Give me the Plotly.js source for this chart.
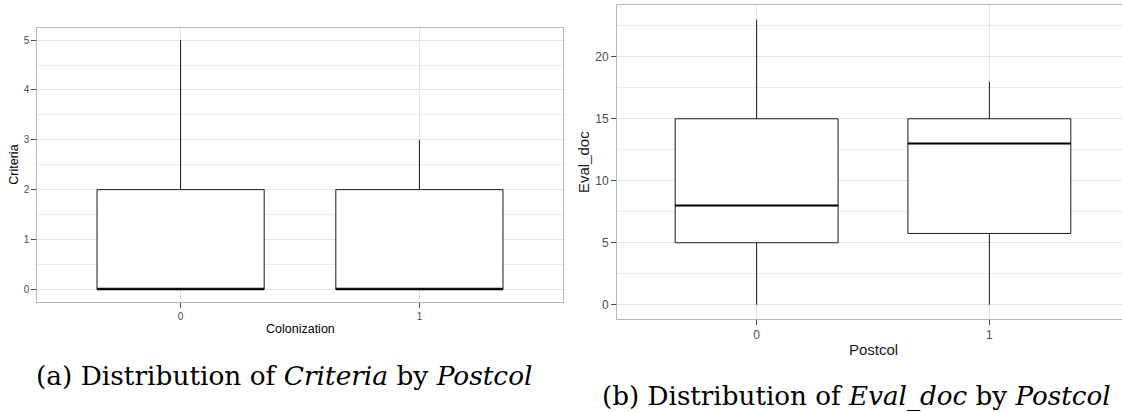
<!DOCTYPE html>
<html>
<head>
<meta charset="utf-8">
<script src="https://cdn.plot.ly/plotly-3.0.1.min.js"></script>
<style>
  html, body { margin: 0; padding: 0; overflow: hidden; background: #ffffff; }
  #chart { width: 1130px; height: 412px; }
</style>
</head>
<body>
<div id="chart"></div>
<script>
// ---- data ----
const categories = [0, 1];
const tickLabels = ['0', '1'];

// (a) Criteria by Colonization
const critLower = [0, 0];
const critQ1 = [0, 0];
const critMedian = [0, 0];
const critQ3 = [2, 2];
const critUpper = [5, 3];

// (b) Eval_doc by Postcol
const evalLower = [0, 0];
const evalQ1 = [5, 5.75];
const evalMedian = [8, 13];
const evalQ3 = [15, 15];
const evalUpper = [23, 18];

const captionA = '(a) Distribution of <i>Criteria</i> by <i>Postcol</i>';
const captionB = '(b) Distribution of <i>Eval_doc</i> by <i>Postcol</i>';

// ---- layout helpers ----
const W = 1130, H = 412;
const xp = px => px / W;
const yp = py => 1 - py / H;
const BOXW = 0.7;

function boxTrace(lo, q1, med, q3, hi, xa, ya) {
  return {
    type: 'box', x: categories, q1: q1, median: med, q3: q3,
    lowerfence: lo, upperfence: hi, width: BOXW, whiskerwidth: 0,
    boxpoints: false, fillcolor: '#ffffff',
    line: { color: '#1a1a1a', width: 1 },
    xaxis: xa, yaxis: ya, showlegend: false, hoverinfo: 'skip'
  };
}
function medianTrace(med, xa, ya) {
  const xs = [], ys = [];
  categories.forEach((c, i) => {
    xs.push(c - BOXW / 2, c + BOXW / 2, null);
    ys.push(med[i], med[i], null);
  });
  return { type: 'scatter', mode: 'lines', x: xs, y: ys,
    line: { color: '#000000', width: 2 }, xaxis: xa, yaxis: ya,
    showlegend: false, hoverinfo: 'skip' };
}

const sans = 'Liberation Sans, Arial, sans-serif';
const serif = 'DejaVu Serif, serif';
const grid = '#e3e3e3', border = '#b8b8b8', tickCol = '#4d4d4d';
function xAxis(domain, fs, anchor) {
  return {
    domain: domain, range: [-0.6, 1.6], tickvals: categories, ticktext: tickLabels,
    showgrid: true, gridcolor: grid, gridwidth: 1, zeroline: false,
    showline: true, linecolor: border, linewidth: 1, mirror: true,
    ticks: 'outside', ticklen: 5, tickcolor: tickCol, tickwidth: 1,
    tickfont: { family: sans, size: fs, color: tickCol },
    anchor: anchor, fixedrange: true
  };
}
function yAxis(domain, range, dtick, fs, anchor) {
  return {
    domain: domain, range: range, tick0: 0, dtick: dtick,
    showgrid: true, gridcolor: grid, gridwidth: 1, zeroline: false,
    minor: { dtick: dtick / 2, tick0: 0, showgrid: true, gridcolor: '#ececec', gridwidth: 1, ticks: '' },
    showline: true, linecolor: border, linewidth: 1, mirror: true,
    ticks: 'outside', ticklen: 5, tickcolor: tickCol, tickwidth: 1,
    tickfont: { family: sans, size: fs, color: tickCol },
    anchor: anchor, fixedrange: true
  };
}

const data = [
  boxTrace(critLower, critQ1, critMedian, critQ3, critUpper, 'x', 'y'),
  medianTrace(critMedian, 'x', 'y'),
  boxTrace(evalLower, evalQ1, evalMedian, evalQ3, evalUpper, 'x2', 'y2'),
  medianTrace(evalMedian, 'x2', 'y2')
];

const layout = {
  width: W, height: H,
  margin: { l: 0, r: 0, t: 0, b: 0 },
  paper_bgcolor: '#ffffff', plot_bgcolor: '#ffffff',
  showlegend: false,
  font: { family: sans },
  xaxis: xAxis([xp(37.3), xp(562.7)], 10, 'y'),
  yaxis: yAxis([yp(301.7), yp(27.7)], [-0.25, 5.25], 1, 10, 'x'),
  xaxis2: xAxis([xp(617), xp(1129)], 12, 'y2'),
  yaxis2: yAxis([yp(319), yp(5.3)], [-1.15, 24.15], 5, 12, 'x2'),
  annotations: [
    { text: 'Colonization', xref: 'paper', yref: 'paper', x: xp(300), y: yp(328.7),
      xanchor: 'center', yanchor: 'middle', showarrow: false,
      font: { family: sans, size: 12.5, color: '#000000' } },
    { text: 'Criteria', xref: 'paper', yref: 'paper', x: xp(14), y: yp(164.7),
      xanchor: 'center', yanchor: 'middle', showarrow: false, textangle: -90,
      font: { family: sans, size: 12.5, color: '#000000' } },
    { text: 'Postcol', xref: 'paper', yref: 'paper', x: xp(873), y: yp(349.3),
      xanchor: 'center', yanchor: 'middle', showarrow: false,
      font: { family: sans, size: 15, color: '#1a1a1a' } },
    { text: 'Eval_doc', xref: 'paper', yref: 'paper', x: xp(583), y: yp(162),
      xanchor: 'center', yanchor: 'middle', showarrow: false, textangle: -90,
      font: { family: sans, size: 15, color: '#1a1a1a' } },
    { text: captionA, xref: 'paper', yref: 'paper', x: xp(34), y: yp(375),
      xanchor: 'left', yanchor: 'middle', showarrow: false,
      font: { family: serif, size: 26.4, color: '#000000' } },
    { text: captionB, xref: 'paper', yref: 'paper', x: xp(600), y: yp(396),
      xanchor: 'left', yanchor: 'middle', showarrow: false,
      font: { family: serif, size: 26.2, color: '#000000' } }
  ]
};

Plotly.newPlot('chart', data, layout, { staticPlot: true, displayModeBar: false });
</script>
</body>
</html>
